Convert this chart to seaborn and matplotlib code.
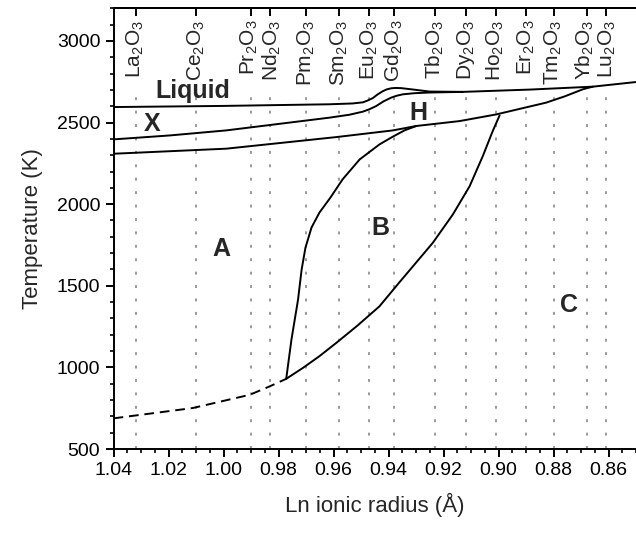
import matplotlib
matplotlib.use("Agg")
import matplotlib.pyplot as plt
import matplotlib.transforms as mtransforms
from matplotlib.ticker import MultipleLocator, NullLocator, FormatStrFormatter
import pandas as pd
import seaborn as sns

# Ln3+ ionic radii (CN 6, Angstrom) of the rare-earth sesquioxides
oxides = ["La", "Ce", "Pr", "Nd", "Pm", "Sm", "Eu", "Gd",
          "Tb", "Dy", "Ho", "Er", "Tm", "Yb", "Lu"]
oxide_radius = [1.032, 1.010, 0.990, 0.983, 0.970, 0.958, 0.947, 0.938,
                0.923, 0.912, 0.901, 0.890, 0.880, 0.868, 0.861]

# Phase boundaries: ionic radius (Angstrom) vs temperature (K)
liquidus_r = [1.040, 1.000, 0.9615, 0.9531, 0.9493, 0.9476, 0.9457, 0.9440, 0.9421,
              0.9407, 0.9390, 0.9375, 0.9354, 0.9299, 0.9251, 0.9130, 0.8887, 0.8657, 0.8502]
liquidus_T = [2595, 2602, 2612, 2617, 2624, 2635, 2650, 2672, 2692,
              2703, 2710, 2712, 2711, 2700, 2690, 2688, 2702, 2720, 2748]

x_upper_r = [1.040, 1.0196, 0.999, 0.9615, 0.9542, 0.9493, 0.9469, 0.9445, 0.9418,
             0.9390, 0.9371, 0.9348, 0.9305, 0.9251, 0.9130]
x_upper_T = [2397, 2421, 2452, 2530, 2548, 2567, 2582, 2601, 2630,
             2653, 2664, 2673, 2680, 2684, 2688]

x_lower_r = [1.040, 0.999, 0.959, 0.9384, 0.9299, 0.9142, 0.9008, 0.8827, 0.8760, 0.8693, 0.8657]
x_lower_T = [2309, 2340, 2411, 2452, 2479, 2509, 2550, 2622, 2660, 2704, 2720]

ab_r = [0.9772, 0.9753, 0.9729, 0.9716, 0.9702, 0.9680, 0.9651, 0.9611,
        0.9567, 0.9505, 0.9433, 0.9385, 0.9342, 0.9299]
ab_T = [930, 1170, 1415, 1599, 1734, 1857, 1949, 2041,
        2152, 2274, 2366, 2413, 2452, 2479]

bc_r = [0.9772, 0.9712, 0.9651, 0.9590, 0.9513, 0.9433, 0.9360, 0.9239,
        0.9166, 0.9105, 0.9057, 0.9021, 0.8996]
bc_T = [930, 996, 1069, 1150, 1256, 1374, 1522, 1763,
        1937, 2110, 2295, 2448, 2544]

ac_r = [1.040, 1.039, 1.0112, 0.9905, 0.9833, 0.9772]
ac_T = [688, 690, 751, 832, 883, 930]

# Phase-field labels
phase_names = ["Liquid", "X", "H", "A", "B", "C"]
phase_r = [1.0113, 1.0258, 0.929, 1.0007, 0.9429, 0.8745]
phase_T = [2691, 2489, 2556, 1727, 1857, 1385]

sns.set_theme(style="ticks")
plt.rcParams.update({
    "font.family": ["Liberation Sans", "DejaVu Sans"],
    "mathtext.fontset": "custom",
    "mathtext.rm": "Liberation Sans",
    "mathtext.it": "Liberation Sans:italic",
    "mathtext.bf": "Liberation Sans:bold",
    "axes.edgecolor": "black",
    "axes.linewidth": 1.4,
})

fig = plt.figure(figsize=(6.36, 5.36), dpi=100)
ax = fig.add_axes([0.1785, 0.1623, 0.8215, 0.8222])

# dotted guides at each sesquioxide
ax.vlines(oxide_radius, 500, 2700, colors="#9a9a9a",
          linestyles=(0, (1.5, 5.4)), linewidth=1.4, zorder=1)

solid = dict(color="black", linewidth=1.4, sort=False, estimator=None, legend=False, ax=ax)
for r, T in [(liquidus_r, liquidus_T), (x_upper_r, x_upper_T), (x_lower_r, x_lower_T),
             (ab_r, ab_T), (bc_r, bc_T)]:
    sns.lineplot(data=pd.DataFrame({"r": r, "T": T}), x="r", y="T", **solid)
sns.lineplot(data=pd.DataFrame({"r": ac_r, "T": ac_T}), x="r", y="T",
             color="black", linewidth=1.4, sort=False, estimator=None,
             legend=False, ax=ax, dashes=False, linestyle=(0, (5, 3)))

for name, r, T in zip(phase_names, phase_r, phase_T):
    ax.text(r, T, name, fontsize=18, fontweight="bold", ha="center", va="center")

# oxide names along the top; the two tight pairs are spread a hair apart
spread = {"Pr": 0.0005, "Nd": -0.0005, "Yb": 0.0005, "Lu": -0.0005}
trans = mtransforms.blended_transform_factory(ax.transData, ax.transAxes)
for el, r in zip(oxides, oxide_radius):
    ax.text(r + spread.get(el, 0.0), 0.974, f"{el}$_2$O$_3$", transform=trans,
            rotation=90, ha="center", va="top", fontsize=15)

ax.set_xlim(1.04, 0.85)
ax.set_ylim(500, 3200)
ax.xaxis.set_major_locator(MultipleLocator(0.02))
ax.xaxis.set_minor_locator(MultipleLocator(0.005))
ax.yaxis.set_major_locator(MultipleLocator(500))
ax.yaxis.set_minor_locator(MultipleLocator(100))
ax.xaxis.set_major_formatter(FormatStrFormatter("%.2f"))
ax.tick_params(which="major", direction="out", length=6, width=1.4,
               labelsize=14, color="black", labelcolor="black", top=False, right=False)
ax.tick_params(which="minor", direction="out", length=3, width=1.2,
               color="black", top=False, right=False)
ax.spines["right"].set_visible(False)

top = ax.secondary_xaxis("top")
top.set_xticks(oxide_radius)
top.xaxis.set_minor_locator(NullLocator())
top.tick_params(direction="in", length=6, width=1.4, labeltop=False, color="black")

ax.set_xlabel("Ln ionic radius (Å)", fontsize=16, labelpad=10)
ax.set_ylabel("Temperature (K)", fontsize=16, labelpad=10)

fig.savefig("out.png", dpi=100)
